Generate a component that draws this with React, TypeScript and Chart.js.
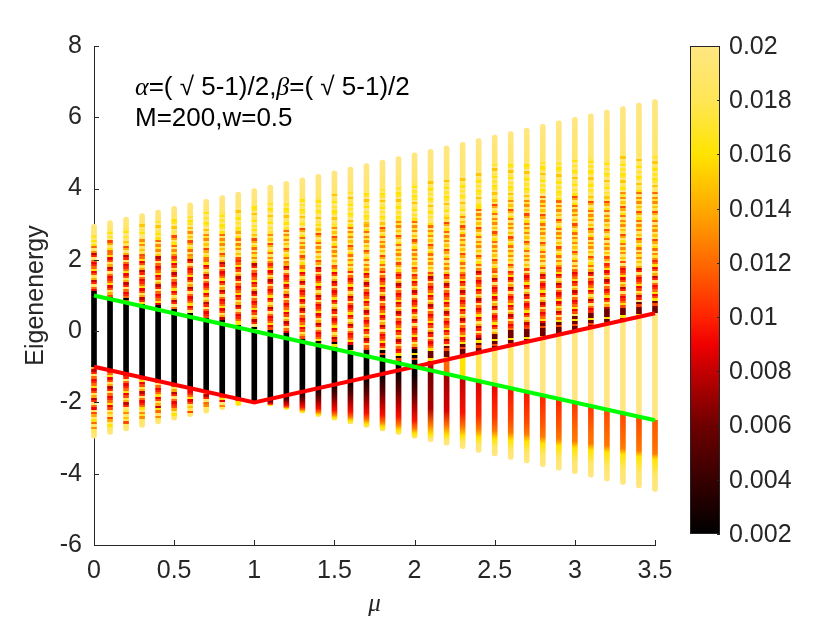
import React, { useEffect, useRef } from "react";
import { Chart, registerables } from "chart.js";

Chart.register(...registerables);

const FONT = '"Liberation Sans", Arial, Helvetica, sans-serif';
const SERIF = '"Liberation Serif", "DejaVu Serif", serif';
const TEXT = "#262626";

// ---- data ----
const MU = [0, 0.1, 0.2, 0.3, 0.4, 0.5, 0.6, 0.7, 0.8, 0.9, 1.0, 1.1, 1.2, 1.3, 1.4, 1.5, 1.6, 1.7, 1.8, 1.9, 2.0,
  2.1, 2.2, 2.3, 2.4, 2.5, 2.6, 2.7, 2.8, 2.9, 3.0, 3.1, 3.2, 3.3, 3.4, 3.5];
const E_MAX = [3.0, 3.1, 3.2, 3.3, 3.4, 3.5, 3.6, 3.7, 3.8, 3.9, 4.0, 4.1, 4.2, 4.3, 4.4, 4.5, 4.6, 4.7, 4.8, 4.9, 5.0,
  5.1, 5.2, 5.3, 5.4, 5.5, 5.6, 5.7, 5.8, 5.9, 6.0, 6.1, 6.2, 6.3, 6.4, 6.5];
const E_MIN = [-3.0, -2.9, -2.8, -2.7, -2.6, -2.5, -2.4, -2.3, -2.2, -2.1, -2.0, -2.1, -2.2, -2.3, -2.4, -2.5, -2.6, -2.7, -2.8, -2.9, -3.0,
  -3.1, -3.2, -3.3, -3.4, -3.5, -3.6, -3.7, -3.8, -3.9, -4.0, -4.1, -4.2, -4.3, -4.4, -4.5];
// lower / upper edge of the middle band (black for mu<=2, pale for mu>2)
const LOWER_EDGE = [-1.0, -1.1, -1.2, -1.3, -1.4, -1.5, -1.6, -1.7, -1.8, -1.9, -2.0, -1.9, -1.8, -1.7, -1.6, -1.5, -1.4, -1.3, -1.2, -1.1, -1.2,
  -1.1, -1.2, -1.3, -1.4, -1.5, -1.6, -1.7, -1.8, -1.9, -2.0, -2.1, -2.2, -2.3, -2.4, -2.5];
const UPPER_EDGE = [1.0, 0.9, 0.8, 0.7, 0.6, 0.5, 0.4, 0.3, 0.2, 0.1, 0.0, -0.1, -0.2, -0.3, -0.4, -0.5, -0.6, -0.7, -0.8, -0.9, -0.8,
  -0.9, -0.8, -0.7, -0.6, -0.5, -0.4, -0.3, -0.2, -0.1, 0.0, 0.1, 0.2, 0.3, 0.4, 0.5];
const MID_IPR = [0.002, 0.002, 0.002, 0.002, 0.002, 0.002, 0.002, 0.002, 0.002, 0.002, 0.002, 0.002, 0.002, 0.002, 0.002, 0.002, 0.002, 0.002, 0.002, 0.002, 0.002,
  0.008, 0.012, 0.016, 0.018, 0.019, 0.019, 0.02, 0.02, 0.02, 0.02, 0.02, 0.02, 0.02, 0.02, 0.02];
// upper region: dark speckles, red speckles, orange speckles, yellow speckles, pale top
const TOP_DARK_END = [1.12, 1.02, 0.92, 0.82, 0.72, 0.62, 0.52, 0.42, 0.32, 0.22, 0.13, 0.04, -0.05, -0.14, -0.22, -0.3, -0.38, -0.46, -0.54, -0.62, -0.5,
  -0.55, -0.42, -0.3, -0.18, -0.08, 0.02, 0.12, 0.22, 0.32, 0.42, 0.52, 0.62, 0.72, 0.82, 0.92];
const TOP_DARK_IPR = [0.0025, 0.0025, 0.0025, 0.0025, 0.0025, 0.0025, 0.0025, 0.0025, 0.0025, 0.0025, 0.0025, 0.0025, 0.0025, 0.0025, 0.0025, 0.0025, 0.0025, 0.0025, 0.0025, 0.0025, 0.0025,
  0.006, 0.006, 0.006, 0.006, 0.006, 0.006, 0.006, 0.006, 0.006, 0.006, 0.006, 0.006, 0.006, 0.006, 0.006];
const TOP_RED_END = [2.2, 2.2, 2.2, 2.1, 2.1, 2.1, 2.1, 2.0, 2.0, 2.0, 1.9, 1.9, 1.9, 1.8, 1.8, 1.8, 1.7, 1.7, 1.7, 1.6, 1.6,
  1.6, 1.6, 1.6, 1.7, 1.7, 1.7, 1.7, 1.8, 1.8, 1.8, 1.8, 1.9, 1.9, 1.9, 2.0];
const TOP_ORANGE_END = [2.5, 2.55, 2.6, 2.65, 2.7, 2.75, 2.8, 2.8, 2.8, 2.8, 2.8, 2.8, 2.85, 2.9, 2.95, 3.0, 3.0, 3.0, 3.05, 3.1, 3.1,
  3.1, 3.2, 3.3, 3.5, 3.7, 3.75, 3.75, 3.8, 3.8, 3.8, 3.85, 3.85, 3.9, 3.9, 3.9];
const TOP_PALE_START = [2.75, 2.85, 2.95, 3.0, 3.1, 3.2, 3.3, 3.35, 3.4, 3.45, 3.5, 3.6, 3.65, 3.7, 3.8, 3.85, 3.9, 3.95, 4.0, 4.1, 4.15,
  4.2, 4.25, 4.35, 4.5, 4.7, 4.7, 4.75, 4.75, 4.8, 4.8, 4.85, 4.85, 4.9, 4.9, 4.9];
// lower region kind: S = speckled, D = dark smooth gradient, R = red smooth gradient
const LOW_KIND = "SSSSSSSSSSSDDDDDDDDDDRRRRRRRRRRRRRRR";
// speckled lower region (mu = 0 .. 1)
const LOW_RED_END = [-2.2, -2.2, -2.2, -2.2, -2.15, -2.1, -2.1, -2.05, -2.0, -1.97, -2.0];
const LOW_PALE_END = [-2.75, -2.68, -2.6, -2.52, -2.44, -2.38, -2.3, -2.2, -2.13, -2.06, -2.0];
// smooth lower region below the green line (mu = 2.1 .. 3.5)
const LOW_START_IPR = [0.006, 0.007, 0.008, 0.0085, 0.009, 0.0095, 0.0095, 0.010, 0.010, 0.0105, 0.0105, 0.011, 0.011, 0.011, 0.0115];
const LOW_YELLOW_AT = [0.9, 0.86, 0.82, 0.79, 0.76, 0.73, 0.70, 0.68, 0.66, 0.64, 0.62, 0.60, 0.58, 0.56, 0.55];
// smooth lower region below the red line (mu = 1.1 .. 2.0)
const PROFILE_D_F = [0, 0.12, 0.32, 0.55, 0.72, 0.85, 0.93, 1];
const PROFILE_D_IPR = [0.002, 0.0035, 0.0055, 0.008, 0.0095, 0.0125, 0.016, 0.019];

const SPECKLE_RED = [0.009, 0.012, 0.019, 0.010, 0.008, 0.014, 0.018, 0.011, 0.009, 0.016, 0.012, 0.010];
const SPECKLE_ORANGE = [0.013, 0.019, 0.012, 0.016, 0.019, 0.014, 0.011, 0.018, 0.015, 0.019, 0.013, 0.017];
const SPECKLE_YELLOW = [0.016, 0.019, 0.017, 0.02, 0.016, 0.018, 0.019, 0.015, 0.02, 0.017];

const GREEN_X = [0, 3.5];
const GREEN_Y = [1, -2.5];
const RED_X = [0, 1, 3.5];
const RED_Y = [-1, -2, 0.5];

const X_TICKS = [0, 0.5, 1, 1.5, 2, 2.5, 3, 3.5];
const Y_TICKS = [-6, -4, -2, 0, 2, 4, 6, 8];
const CBAR_TICKS = [0.002, 0.004, 0.006, 0.008, 0.01, 0.012, 0.014, 0.016, 0.018, 0.02];
const CBAR_LABELS = ["0.002", "0.004", "0.006", "0.008", "0.01", "0.012", "0.014", "0.016", "0.018", "0.02"];
const CBAR_MIN = 0.002;
const CBAR_MAX = 0.02;

// ---- colormap ----
const CMAP: [number, number, number, number][] = [
  [0.002, 0, 0, 0],
  [0.004, 55, 0, 0],
  [0.006, 110, 0, 0],
  [0.008, 195, 0, 0],
  [0.009, 240, 0, 0],
  [0.010, 255, 35, 0],
  [0.012, 255, 105, 0],
  [0.014, 255, 170, 0],
  [0.016, 255, 228, 0],
  [0.018, 255, 230, 85],
  [0.020, 255, 230, 130],
];

function iprColor(v: number): string {
  const x = Math.min(CBAR_MAX, Math.max(CBAR_MIN, v));
  for (let k = 0; k < CMAP.length - 1; k++) {
    const a = CMAP[k], b = CMAP[k + 1];
    if (x <= b[0]) {
      const t = (x - a[0]) / (b[0] - a[0]);
      const r = Math.round(a[1] + (b[1] - a[1]) * t);
      const g = Math.round(a[2] + (b[2] - a[2]) * t);
      const bl = Math.round(a[3] + (b[3] - a[3]) * t);
      return `rgb(${r},${g},${bl})`;
    }
  }
  const l = CMAP[CMAP.length - 1];
  return `rgb(${l[1]},${l[2]},${l[3]})`;
}

const STRIPE = 0.065;

function speckle(out: [number, number][], a: number, b: number, pattern: number[], phase: number) {
  if (b <= a) return;
  const n = Math.max(1, Math.round((b - a) / STRIPE));
  for (let k = 0; k < n; k++) {
    const e0 = k === 0 ? a : a + (k * (b - a)) / n;
    const e1 = k === n - 1 ? b : a + ((k + 1) * (b - a)) / n;
    const v = pattern[(k + phase) % pattern.length];
    out.push([e0, v], [e1, v]);
  }
}

function columnStops(i: number): [number, number][] {
  const out: [number, number][] = [];
  const lo = E_MIN[i], le = LOWER_EDGE[i], ue = UPPER_EDGE[i], hi = E_MAX[i];
  const kind = LOW_KIND[i];
  if (kind === "S") {
    out.push([lo, 0.02], [LOW_PALE_END[i], 0.018]);
    speckle(out, LOW_PALE_END[i], LOW_RED_END[i], SPECKLE_ORANGE, i * 3);
    speckle(out, LOW_RED_END[i], le, SPECKLE_RED, i * 7);
  } else if (kind === "D") {
    for (let k = PROFILE_D_F.length - 1; k >= 0; k--) {
      out.push([le - PROFILE_D_F[k] * (le - lo), PROFILE_D_IPR[k]]);
    }
  } else {
    const j = i - 21;
    const s = LOW_START_IPR[j];
    const y = LOW_YELLOW_AT[j];
    const f = [0, 0.6 * y, 0.85 * y, y, y + (1 - y) * 0.5, 1];
    const v = [s, Math.min(s + 0.0015, 0.012), 0.0125, 0.016, 0.019, 0.02];
    for (let k = f.length - 1; k >= 0; k--) out.push([le - f[k] * (le - lo), v[k]]);
  }
  out.push([le, MID_IPR[i]], [ue, MID_IPR[i]]);
  const d = TOP_DARK_IPR[i];
  speckle(out, ue, TOP_DARK_END[i], [d, d, 0.011, d, 0.016, d], i);
  speckle(out, TOP_DARK_END[i], TOP_RED_END[i], SPECKLE_RED, i * 5);
  speckle(out, TOP_RED_END[i], TOP_ORANGE_END[i], SPECKLE_ORANGE, i * 2);
  speckle(out, TOP_ORANGE_END[i], TOP_PALE_START[i], SPECKLE_YELLOW, i);
  out.push([TOP_PALE_START[i], 0.019], [hi, 0.02]);
  return out;
}

function columnGradient(chart: any, i: number): any {
  const ys = chart.scales?.y;
  if (!chart.chartArea || !ys || i === undefined) return iprColor(0.02);
  const lo = E_MIN[i], hi = E_MAX[i];
  const g = chart.ctx.createLinearGradient(0, ys.getPixelForValue(lo), 0, ys.getPixelForValue(hi));
  let last = 0;
  for (const [e, v] of columnStops(i)) {
    let t = Math.min(1, Math.max(0, (e - lo) / (hi - lo)));
    t = Math.max(last, Math.round(t * 1e6) / 1e6);
    last = t;
    g.addColorStop(t, iprColor(v));
  }
  return g;
}

// ---- layout (page pixels) ----
const W = 830;
const H = 623;
const PLOT_LEFT = 94;
const PLOT_RIGHT = 655;
const PLOT_TOP = 46;
const PLOT_BOTTOM = 545;
const CB_LEFT = 690;
const CB_RIGHT = 720;
const CB_TOP = 46;
const CB_BOTTOM = 534;
const FS = 25;
const FS_NOTE = 26;

const decorPlugin = {
  id: "decor",
  afterDraw(chart: any) {
    const { ctx, chartArea, scales } = chart;
    ctx.save();
    // inward tick marks
    ctx.strokeStyle = TEXT;
    ctx.lineWidth = 1;
    ctx.beginPath();
    for (const v of X_TICKS) {
      const px = Math.round(scales.x.getPixelForValue(v)) + 0.5;
      ctx.moveTo(px, chartArea.bottom);
      ctx.lineTo(px, chartArea.bottom - 5);
    }
    for (const v of Y_TICKS) {
      const py = Math.round(scales.y.getPixelForValue(v)) + 0.5;
      ctx.moveTo(chartArea.left, py);
      ctx.lineTo(chartArea.left + 5, py);
    }
    ctx.stroke();

    // annotation text
    ctx.fillStyle = "#000";
    ctx.textBaseline = "middle";
    ctx.textAlign = "left";
    const pieces: [string, string][] = [
      ["α", `italic ${FS_NOTE}px ${SERIF}`],
      ["=( √ 5-1)/2,", `${FS_NOTE}px ${FONT}`],
      ["β", `italic ${FS_NOTE}px ${SERIF}`],
      ["=( √ 5-1)/2", `${FS_NOTE}px ${FONT}`],
    ];
    let x = 135;
    for (const [t, f] of pieces) {
      ctx.font = f;
      ctx.fillText(t, x, 88);
      x += ctx.measureText(t).width;
    }
    ctx.font = `${FS_NOTE}px ${FONT}`;
    ctx.fillText("M=200,w=0.5", 135, 119);

    // colour bar
    const grad = ctx.createLinearGradient(0, CB_BOTTOM, 0, CB_TOP);
    for (const c of CMAP) {
      grad.addColorStop((c[0] - CBAR_MIN) / (CBAR_MAX - CBAR_MIN), `rgb(${c[1]},${c[2]},${c[3]})`);
    }
    ctx.fillStyle = grad;
    ctx.fillRect(CB_LEFT, CB_TOP, CB_RIGHT - CB_LEFT, CB_BOTTOM - CB_TOP);
    ctx.strokeStyle = TEXT;
    ctx.lineWidth = 1;
    ctx.strokeRect(CB_LEFT + 0.5, CB_TOP + 0.5, CB_RIGHT - CB_LEFT - 1, CB_BOTTOM - CB_TOP - 1);
    ctx.fillStyle = TEXT;
    ctx.font = `${FS}px ${FONT}`;
    ctx.textAlign = "left";
    ctx.textBaseline = "middle";
    ctx.beginPath();
    CBAR_TICKS.forEach((v, k) => {
      const py = CB_BOTTOM - ((v - CBAR_MIN) / (CBAR_MAX - CBAR_MIN)) * (CB_BOTTOM - CB_TOP);
      ctx.moveTo(CB_RIGHT, Math.round(py) + 0.5);
      ctx.lineTo(CB_RIGHT - 3, Math.round(py) + 0.5);
      ctx.fillText(CBAR_LABELS[k], CB_RIGHT + 9, py + 1);
    });
    ctx.stroke();
    ctx.restore();
  },
};

export default function App() {
  const ref = useRef<HTMLCanvasElement | null>(null);
  useEffect(() => {
    if (!ref.current) return;
    const chart = new Chart(ref.current, {
      type: "bar",
      data: {
        datasets: [
          {
            type: "line",
            label: "green",
            data: GREEN_X.map((x, k) => ({ x, y: GREEN_Y[k] })),
            borderColor: "#00ff00",
            borderWidth: 4,
            pointRadius: 0,
            order: 1,
            clip: false,
          } as any,
          {
            type: "line",
            label: "red",
            data: RED_X.map((x, k) => ({ x, y: RED_Y[k] })),
            borderColor: "#ff0000",
            borderWidth: 4,
            pointRadius: 0,
            order: 2,
            clip: false,
          } as any,
          {
            type: "bar",
            label: "spectrum",
            data: MU.map((m, k) => ({ x: m, y: [E_MIN[k], E_MAX[k]] })),
            barThickness: 5,
            borderRadius: 2.5,
            borderSkipped: false,
            borderWidth: 0,
            backgroundColor: (c: any) => columnGradient(c.chart, c.dataIndex),
            order: 3,
            clip: false,
          } as any,
        ],
      },
      options: {
        animation: false,
        responsive: true,
        maintainAspectRatio: false,
        layout: { padding: { left: 0, right: W - PLOT_RIGHT, top: PLOT_TOP, bottom: 0 } },
        plugins: { legend: { display: false }, tooltip: { enabled: false } },
        scales: {
          x: {
            type: "linear",
            min: 0,
            max: 3.5,
            offset: false,
            grid: { display: false, drawTicks: false },
            border: { display: true, color: TEXT, width: 1 },
            ticks: {
              stepSize: 0.5, autoSkip: false, maxRotation: 0, color: TEXT, padding: 11,
              font: { family: FONT, size: FS },
              callback: (v: any) => String(Math.round(Number(v) * 10) / 10),
            },
            title: { display: true, text: "μ", color: TEXT, font: { family: SERIF, size: FS, style: "italic" }, padding: { top: 0, bottom: 4 } },
            afterFit: (s: any) => { s.height = H - PLOT_BOTTOM; },
          },
          y: {
            type: "linear",
            min: -6,
            max: 8,
            grid: { display: false, drawTicks: false },
            border: { display: true, color: TEXT, width: 1 },
            ticks: { stepSize: 2, color: TEXT, padding: 12, font: { family: FONT, size: FS } },
            title: { display: true, text: "Eigenenergy", color: TEXT, font: { family: FONT, size: FS }, padding: { top: 21, bottom: 0 } },
            afterFit: (s: any) => { s.width = PLOT_LEFT; },
          },
        },
      } as any,
      plugins: [decorPlugin],
    });
    return () => chart.destroy();
  }, []);
  return (
    <div style={{ position: "fixed", left: 0, top: 0, width: W, height: H, background: "#fff" }}>
      <canvas ref={ref} />
    </div>
  );
}
